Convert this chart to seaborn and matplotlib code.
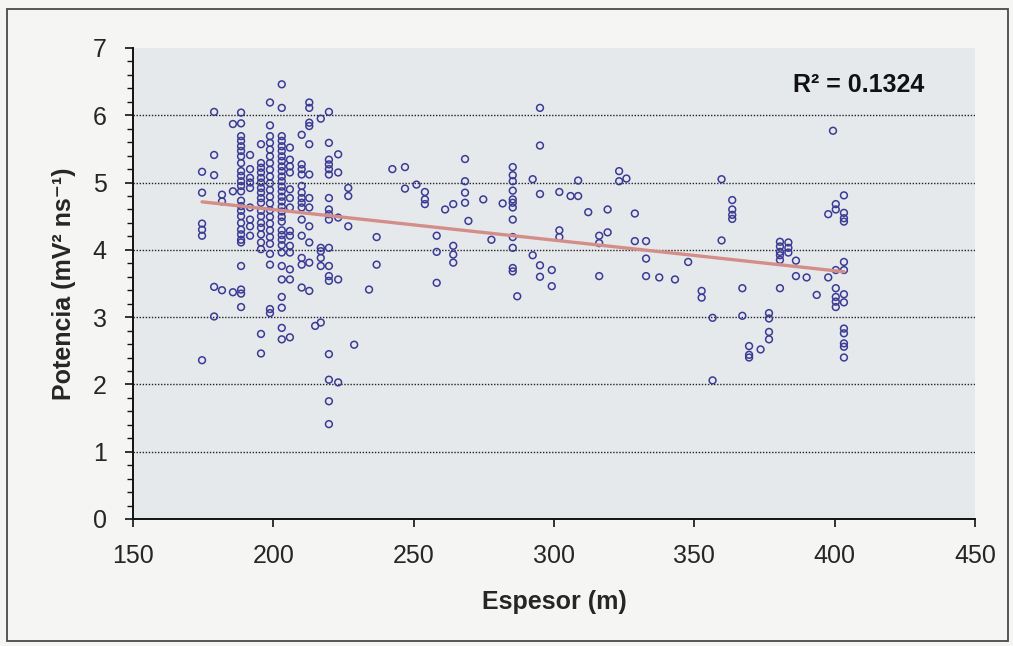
import numpy as np
import pandas as pd
import matplotlib
matplotlib.use("Agg")
import matplotlib.pyplot as plt
from matplotlib.patches import Rectangle
from matplotlib.ticker import MultipleLocator
import seaborn as sns

# Thickness columns (m) and the power readings measured at each one
espesor_a = [174.6, 178.9, 181.7, 185.6, 188.5, 191.7, 195.6, 198.8]
potencia_a = [
    [5.16, 4.85, 4.39, 4.30, 4.21, 2.36],
    [6.05, 5.41, 5.11, 3.45, 3.01],
    [4.82, 4.72, 3.40],
    [5.87, 4.87, 3.37],
    [6.04, 5.88, 5.69, 5.62, 5.54, 5.47, 5.39, 5.29, 5.17, 5.10, 5.02, 4.95, 4.87,
     4.73, 4.65, 4.58, 4.50, 4.40, 4.30, 4.23, 4.15, 4.11, 3.76, 3.41, 3.35, 3.15],
    [5.41, 5.20, 5.07, 5.00, 4.92, 4.63, 4.45, 4.35, 4.21],
    [5.57, 5.29, 5.22, 5.15, 5.07, 5.00, 4.92, 4.85, 4.77, 4.70, 4.58, 4.50, 4.40,
     4.33, 4.23, 4.11, 4.01, 2.75, 2.46],
    [6.19, 5.85, 5.69, 5.59, 5.49, 5.39, 5.29, 5.19, 5.09, 4.99, 4.89, 4.79, 4.69,
     4.59, 4.49, 4.39, 4.29, 4.19, 4.09, 3.94, 3.78, 3.12, 3.06],
]

espesor_b = [203.0, 205.9, 210.1, 212.8, 214.9, 216.9, 219.8, 223.1, 226.7, 228.8]
potencia_b = [
    [6.46, 6.11, 5.69, 5.62, 5.54, 5.47, 5.39, 5.32, 5.24, 5.17, 5.09, 5.02, 4.94,
     4.87, 4.79, 4.72, 4.64, 4.57, 4.49, 4.42, 4.29, 4.22, 4.15, 4.07, 3.96, 3.76,
     3.56, 3.30, 3.14, 2.84, 2.67],
    [5.52, 5.34, 5.24, 5.15, 4.90, 4.77, 4.63, 4.28, 4.21, 4.06, 3.96, 3.71, 3.56, 2.70],
    [5.71, 5.27, 5.20, 5.12, 4.95, 4.85, 4.77, 4.70, 4.63, 4.45, 4.21, 3.88, 3.78, 3.44],
    [6.19, 6.11, 5.89, 5.84, 5.57, 5.12, 4.77, 4.63, 4.35, 4.11, 3.81, 3.39],
    [2.87],
    [5.95, 4.03, 3.98, 3.88, 3.76, 2.92],
    [6.05, 5.59, 5.34, 5.27, 5.20, 5.12, 4.77, 4.60, 4.53, 4.45, 4.03, 3.76, 3.61,
     3.54, 2.45, 2.07, 1.75, 1.41],
    [5.42, 5.15, 4.48, 3.56, 2.03],
    [4.92, 4.80, 4.35],
    [2.59],
]

espesor_c = [234.1, 236.8, 242.4, 246.9, 251.0, 254.0, 258.2, 261.2, 264.1, 268.3,
             269.5, 274.8, 277.7, 281.7, 285.3, 286.9, 292.4, 295.0, 299.2, 301.9,
             305.9, 308.6, 312.2, 316.1, 319.1, 323.2, 325.8, 328.8, 332.8, 337.5]
potencia_c = [
    [3.41], [4.19, 3.78], [5.20], [5.23, 4.91], [4.97], [4.86, 4.75, 4.68],
    [4.21, 3.97, 3.51], [4.60], [4.68, 4.06, 3.93, 3.81], [5.35, 5.02, 4.85, 4.70],
    [4.43], [4.75], [4.15], [4.69],
    [5.23, 5.11, 5.02, 4.88, 4.75, 4.70, 4.63, 4.45, 4.19, 4.03, 3.73, 3.68],
    [3.31], [5.05, 3.92], [6.11, 5.55, 4.83, 3.77, 3.60], [3.70, 3.46],
    [4.86, 4.29, 4.19], [4.80], [4.80, 5.03], [4.56], [4.21, 4.10, 3.61],
    [4.60, 4.26], [5.17, 5.02], [5.06], [4.54, 4.13], [4.13, 3.87, 3.61], [3.59],
]

espesor_d = [343.1, 347.8, 352.6, 356.5, 359.7, 363.5, 367.1, 369.5, 373.6, 376.6,
             380.5, 383.5, 386.2, 390.0, 393.6, 397.7, 399.4, 400.4, 403.3]
potencia_d = [
    [3.56], [3.82], [3.39, 3.29], [2.99, 2.06], [5.05, 4.14],
    [4.74, 4.60, 4.52, 4.46], [3.43, 3.02], [2.57, 2.44, 2.40], [2.52],
    [3.06, 2.98, 2.78, 2.67], [4.12, 4.05, 3.97, 3.92, 3.85, 3.43],
    [4.11, 4.03, 3.96], [3.84, 3.61], [3.59], [3.33], [4.53, 3.59], [5.77],
    [4.68, 4.60, 3.70, 3.43, 3.30, 3.23, 3.15],
    [4.81, 4.55, 4.47, 4.42, 3.82, 3.70, 3.34, 3.22, 2.83, 2.76, 2.61, 2.56, 2.40],
]

x_ticks = [150, 200, 250, 300, 350, 400, 450]
y_ticks = [0, 1, 2, 3, 4, 5, 6, 7]
r2_label = "R² = 0.1324"

rows = []
for xs, ys in [(espesor_a, potencia_a), (espesor_b, potencia_b),
               (espesor_c, potencia_c), (espesor_d, potencia_d)]:
    for x, col in zip(xs, ys):
        for y in col:
            rows.append((x, y))
df = pd.DataFrame(rows, columns=["espesor", "potencia"])

sns.set_style("white")
plt.rcParams["font.family"] = ["Liberation Sans", "DejaVu Sans"]

fig = plt.figure(figsize=(10.13, 6.46), dpi=100)
fig.patch.set_facecolor("#f5f5f4")
ax = fig.add_axes([0.1313, 0.1966, 0.8312, 0.7291])
ax.set_facecolor("#e6e9ec")

# outer chart frame
fig.patches.append(Rectangle((0.007, 0.008), 0.988, 0.978, transform=fig.transFigure,
                             fill=False, edgecolor="#4a4a4a", linewidth=1.3))

for y in y_ticks[1:-1]:
    ax.axhline(y, color="#222222", linestyle=(0, (1, 1.2)), linewidth=1.0, zorder=1)

sns.scatterplot(data=df, x="espesor", y="potencia", ax=ax, marker="o", s=24,
                facecolors="none", edgecolor="#3b3b95", linewidth=1.1, zorder=3)
sns.regplot(data=df, x="espesor", y="potencia", ax=ax, scatter=False, ci=None,
            truncate=True, line_kws={"color": "#d48e8a", "linewidth": 2.4, "zorder": 4})

ax.set_xlim(150, 450)
ax.set_ylim(0, 7)
ax.set_xticks(x_ticks)
ax.set_yticks(y_ticks)
ax.yaxis.set_minor_locator(MultipleLocator(0.2))
ax.tick_params(axis="both", which="major", labelsize=18, length=6, width=1.2,
               color="#111111", direction="out", left=True, bottom=True)
ax.tick_params(axis="x", pad=12)
ax.tick_params(axis="y", pad=13)
ax.tick_params(axis="y", which="minor", length=4, width=1.0, left=True, color="#111111")

for side in ["top", "right"]:
    ax.spines[side].set_visible(False)
for side in ["left", "bottom"]:
    ax.spines[side].set_color("#111111")
    ax.spines[side].set_linewidth(1.4)

ax.set_xlabel("Espesor (m)", fontsize=18, fontweight="bold", labelpad=16)
ax.set_ylabel("Potencia (mV² ns⁻¹)", fontsize=18, fontweight="bold", labelpad=12)
ax.text(385, 6.45, r2_label, fontsize=18, fontweight="bold", ha="left", va="center",
        color="#111111")

fig.savefig("out.png", dpi=100, facecolor=fig.get_facecolor())
